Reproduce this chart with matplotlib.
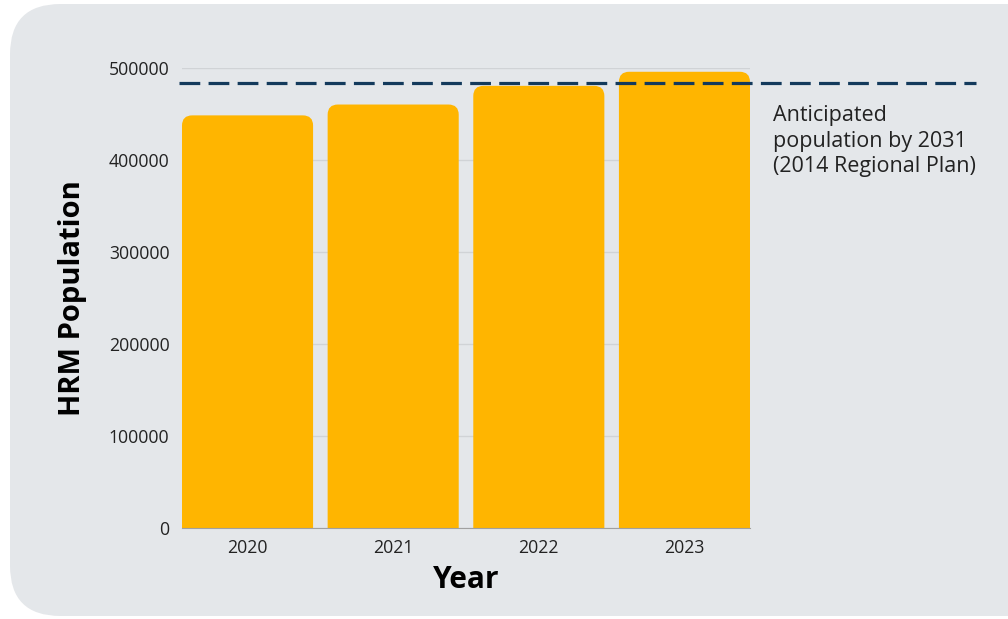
import matplotlib
matplotlib.use("Agg")
import matplotlib.pyplot as plt
from matplotlib.patches import FancyBboxPatch

plt.rcParams["font.family"] = ["Open Sans", "DejaVu Sans"]

years = ["2020", "2021", "2022", "2023"]
population = [448500, 460300, 480600, 495900]
target_2031 = 484000
y_ticks = [0, 100000, 200000, 300000, 400000, 500000]
note = "Anticipated\npopulation by 2031\n(2014 Regional Plan)"

BG = "#e4e7ea"
BAR = "#ffb500"
NAVY = "#133a5c"

fig = plt.figure(figsize=(10.08, 6.19), dpi=100)

# rounded grey card behind everything (runs off the right edge)
card = FancyBboxPatch((10 / 1008, 3 / 619), 1.05, 612 / 619,
                      boxstyle="round,pad=0,rounding_size=0.05",
                      mutation_aspect=1008 / 619,
                      transform=fig.transFigure, facecolor=BG, edgecolor="none",
                      zorder=-5)
fig.patches.append(card)

ax = fig.add_axes([182 / 1008, 1 - 528 / 619, 568 / 1008, 460 / 619])
ax.set_facecolor("none")

x = range(len(years))
bars = ax.bar(x, population, width=0.9, color=BAR)
ax.set_xlim(-0.45, 3.45)
ax.set_ylim(0, 500000)

# swap plain bars for ones with rounded tops
aspect = (500000 / 460) / (3.9 / 568)
for b in bars:
    bx, by, bw, bh = b.get_x(), b.get_y(), b.get_width(), b.get_height()
    b.set_visible(False)
    p = FancyBboxPatch((bx, by - 30000), bw, bh + 30000,
                       boxstyle="round,pad=0,rounding_size=0.07",
                       mutation_aspect=aspect, facecolor=BAR, edgecolor="none",
                       zorder=2)
    ax.add_patch(p)
    p.set_clip_path(ax.patch)

ax.set_yticks(y_ticks)
ax.set_yticklabels([str(v) for v in y_ticks])
ax.set_xticks(list(x))
ax.set_xticklabels(years)
ax.grid(axis="y", color="#d0d3d6", lw=1)
ax.set_axisbelow(True)
ax.tick_params(axis="both", length=0, labelsize=12.7, labelcolor="#222222")
ax.tick_params(axis="y", pad=9)
ax.tick_params(axis="x", pad=8)
for s in ["top", "right", "left"]:
    ax.spines[s].set_visible(False)
ax.spines["bottom"].set_color("#a0a0a0")
ax.spines["bottom"].set_zorder(3)

ax.set_xlabel("Year", fontsize=21.5, fontweight="bold", labelpad=6)
ax.set_ylabel("HRM Population", fontsize=21, fontweight="bold", labelpad=16)

# 2031 target line runs past the plot into the note area
line_x = [-0.47, 3.45 + (976 - 750) / 568 * 3.9]
ax.plot(line_x, [target_2031, target_2031], color=NAVY, lw=2.3,
        dashes=(6.5, 2.6), clip_on=False, zorder=4)
ax.text(773 / 1008, 1 - 141 / 619, note, transform=fig.transFigure,
        fontsize=15.5, color="#222222", va="center", ha="left", linespacing=1.27)

fig.savefig("out.png", dpi=100)
